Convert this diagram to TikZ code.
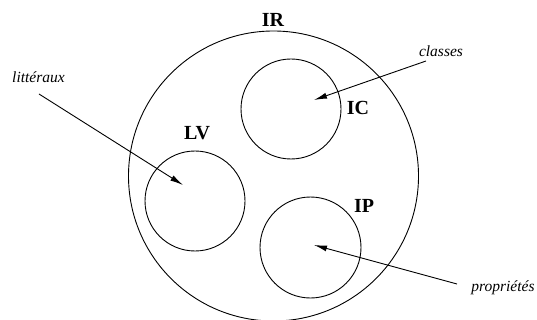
\documentclass[tikz,border=0pt]{standalone}
\usepackage{fontspec}
\setmainfont{Liberation Serif}
\usetikzlibrary{arrows.meta}
\begin{document}
\begin{tikzpicture}[x=1pt,y=-1pt,
  set/.style={draw,circle,line width=0.9pt,inner sep=0pt},
  lab/.style={font=\fontsize{20}{24}\selectfont\bfseries,inner sep=0pt},
  note/.style={font=\fontsize{15.5}{18}\selectfont\itshape,inner sep=0pt},
  arr/.style={line width=0.9pt,-{Latex[length=13pt,width=6pt]}}]
\useasboundingbox (0,0) rectangle (537,320);
\node[set,minimum size=290pt] (IR) at (273.5,176) {};
\node[set,minimum size=100pt] (IC) at (291,109) {};
\node[set,minimum size=100pt] (LV) at (195,201) {};
\node[set,minimum size=101pt] (IP) at (310.5,247.5) {};
\node[lab] (tIR) at (273,20) {IR};
\node[lab] (tIC) at (358,108) {IC};
\node[lab] (tLV) at (197,133) {LV};
\node[lab] (tIP) at (364,206) {IP};
\node[note] (nL) at (38.5,77) {littéraux};
\node[note] (nC) at (441,51) {classes};
\node[note] (nP) at (503,288) {propriétés};
\coordinate (sL) at (39,94);
\coordinate (sC) at (426,61);
\coordinate (sP) at (457,284);
\coordinate (eL) at (183,185);
\coordinate (eC) at (314,100);
\coordinate (eP) at (314,245);
\draw[arr] (sL) -- (eL);
\draw[arr] (sC) -- (eC);
\draw[arr] (sP) -- (eP);
\end{tikzpicture}
\end{document}
